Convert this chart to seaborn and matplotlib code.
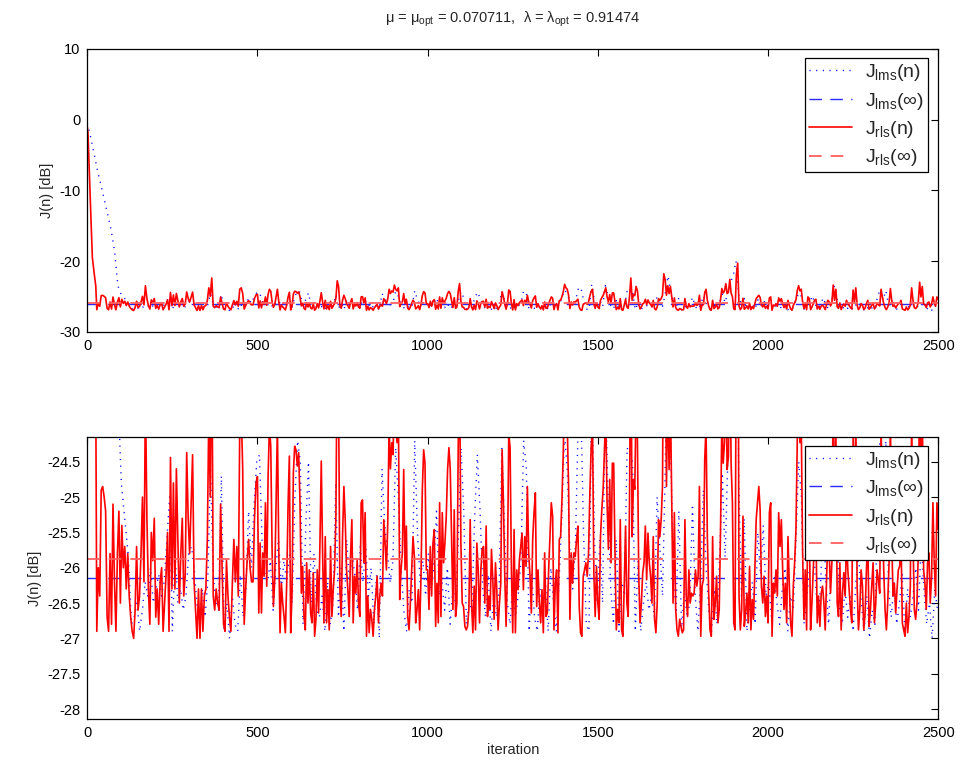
import numpy as np
import matplotlib
matplotlib.use("Agg")
import matplotlib.pyplot as plt
import seaborn as sns

sns.set_style("white")
plt.rcParams["font.family"] = ["Liberation Sans", "DejaVu Sans"]
plt.rcParams["mathtext.fontset"] = "custom"
plt.rcParams["mathtext.rm"] = "Liberation Sans"
plt.rcParams["mathtext.it"] = "Liberation Sans"
plt.rcParams["mathtext.bf"] = "Liberation Sans:bold"
plt.rcParams["axes.unicode_minus"] = False

# values
mu_opt = 0.070711
lam_opt = 0.91474
J_lms_inf = -26.145
J_rls_inf = -25.872
n_max = 2500

# RLS learning curve: start-up, then 5 segments of roughly even spacing
n_rls_start = [0, 2, 5, 8, 12, 15, 18, 21, 25]
J_rls_start = [-1.0, -1.8, -6.0, -10.5, -15.5, -19.5, -20.8, -22.0, -23.5]

rls_seg1 = [-26.9, -26.0, -26.4, -24.9, -24.85, -25.0, -25.2, -26.7, -26.9, -25.8,
            -26.8, -25.1, -26.2, -26.9, -25.8, -25.2, -26.5, -25.4, -26.0, -25.7,
            -26.3, -25.8, -26.4, -26.7, -26.9, -27.0, -26.6, -25.7, -26.6, -26.4,
            -25.8, -25.0, -26.2, -23.5, -25.3, -26.3, -26.8, -25.5, -25.9, -25.3,
            -26.7, -26.3, -26.8, -26.2, -26.0, -26.9, -26.5, -26.1, -25.5, -26.9,
            -24.44, -26.3, -24.8, -26.3, -24.6, -25.6, -26.5, -25.8, -25.3, -26.4,
            -26.1, -24.37, -25.3, -25.8, -25.1, -24.4, -26.2, -26.6, -27.0, -26.3,
            -27.0, -26.3, -26.9, -26.4, -26.3, -25.6, -23.8, -25.0, -22.4, -26.4,
            -26.6, -26.3, -26.5, -26.6, -25.1, -26.0, -26.8, -26.9, -25.9, -26.4,
            -26.7, -26.9, -26.2, -25.6, -26.2, -25.7, -26.4, -24.0, -23.8, -24.6,
            -26.8, -26.3, -25.9, -25.6, -26.0, -26.2, -26.2, -25.3, -24.8]

rls_seg2 = [-24.71, -26.64, -25.65, -26.64, -25.79, -26.12, -25.08, -26.26, -24.71, -24.0,
            -24.28, -25.74, -26.55, -26.17, -25.08, -24.0, -25.70, -26.92, -26.22, -26.50,
            -26.69, -26.92, -26.22, -25.13, -24.42, -26.92, -26.36, -24.66, -24.28, -24.33,
            -24.56, -24.37, -25.08, -26.36, -25.98, -26.69, -26.88, -25.93, -26.50, -26.03,
            -26.64, -26.78, -26.07, -26.97, -26.73, -26.03, -26.64, -25.65, -24.49, -25.79,
            -26.78, -25.56, -26.78, -26.31, -26.88, -25.70, -26.69, -26.31, -26.03, -25.27,
            -22.8, -23.6, -26.31, -26.69, -25.56, -24.85, -25.32, -26.03, -26.31, -26.69,
            -25.84, -25.32, -26.78, -26.12, -26.36, -25.89, -26.50, -26.69, -25.08, -25.04,
            -25.93, -25.22, -26.97, -26.40, -26.92, -26.59, -26.73, -26.97, -26.59, -26.40,
            -26.12, -26.78, -26.40, -26.22, -26.40, -25.32, -25.65, -26.03, -25.37, -24.0,
            -24.6, -24.23, -24.4, -23.4, -24.0, -24.23, -23.8, -26.45, -26.03, -25.79,
            -24.61, -26.03, -25.41, -26.69, -26.88, -26.50, -26.03, -25.56, -25.84, -26.78,
            -26.59, -26.31, -26.88, -26.12, -24.89, -24.33, -24.52, -26.03]

rls_seg3 = [-26.03, -26.59, -25.70, -26.40, -25.65, -25.46, -26.83, -26.22, -26.78, -25.08,
            -26.69, -25.22, -25.93, -25.65, -25.27, -24.61, -24.3, -24.61, -25.56, -26.59,
            -25.18, -26.69, -26.50, -24.28, -23.2, -25.65, -26.50, -26.55, -26.83, -26.88,
            -26.83, -26.59, -25.32, -26.50, -26.92, -26.26, -26.88, -25.65, -26.03, -26.78,
            -26.03, -25.74, -25.70, -26.50, -25.41, -26.69, -26.40, -26.59, -25.74, -26.17,
            -26.73, -25.93, -26.31, -26.88, -26.50, -26.22, -24.33, -25.08, -26.12, -26.83,
            -26.03, -24.1, -24.3, -26.03, -26.92, -25.46, -26.92, -26.03, -26.31, -25.89,
            -25.70, -25.51, -26.31, -25.56, -25.98, -24.85, -25.79, -26.12, -26.64, -25.60,
            -25.22, -24.94, -26.55, -26.03, -26.50, -26.78, -26.31, -26.92, -25.79, -26.69,
            -26.64, -26.03, -25.56, -25.08, -25.27, -26.88, -26.22, -26.03, -26.92, -25.60,
            -25.56, -25.04, -24.37, -23.3, -23.8, -24.0, -24.85, -26.73, -25.79, -26.22,
            -25.79, -25.84, -25.60, -25.41, -26.55, -26.92, -26.97, -26.12, -26.03, -25.93,
            -26.12, -25.79, -24.94, -24.28, -24.0, -26.07, -26.69, -25.98]

rls_seg4 = [-26.50, -26.73, -25.56, -25.18, -24.89, -24.33, -23.8, -25.08, -25.74, -24.75,
            -25.93, -24.52, -24.52, -25.79, -26.88, -26.59, -26.78, -25.32, -26.88, -26.97,
            -26.26, -25.41, -26.50, -26.69, -25.08, -22.4, -25.56, -24.75, -24.89, -23.6,
            -24.2, -26.12, -26.78, -26.50, -26.07, -25.93, -25.41, -26.17, -25.51, -25.93,
            -26.12, -26.50, -25.56, -26.73, -26.92, -26.50, -25.32, -25.56, -25.32, -24.85,
            -21.8, -22.6, -24.85, -23.5, -24.61, -23.6, -25.08, -26.50, -25.22, -26.59,
            -26.88, -26.97, -26.73, -26.83, -26.92, -26.88, -25.32, -26.40, -26.69, -26.03,
            -26.50, -26.36, -26.40, -26.36, -26.03, -26.26, -26.12, -24.85, -26.97, -26.26,
            -26.17, -24.47, -24.0, -25.56, -26.36, -26.88, -26.97, -25.56, -26.73, -26.50,
            -26.12, -26.78, -26.59, -25.46, -23.9, -24.52, -24.23, -23.2, -24.61, -24.42,
            -22.6, -24.52, -25.08, -26.78, -26.88, -22.0, -20.3, -26.40, -26.88, -26.59,
            -25.27, -26.83, -26.64, -26.36, -26.78, -25.98, -26.88, -26.45, -26.73, -26.03,
            -25.32, -25.08, -24.85, -25.18, -26.26, -26.50, -26.12, -26.69, -26.40]

rls_seg5 = [-26.78, -25.22, -25.08, -26.97, -26.22, -26.36, -26.03, -26.40, -25.22, -25.70,
            -25.32, -26.03, -26.59, -26.22, -26.78, -25.56, -26.26, -26.78, -26.97, -26.26,
            -25.93, -25.46, -24.18, -23.5, -24.23, -24.0, -25.79, -26.73, -26.03, -26.88,
            -25.08, -25.32, -26.88, -26.50, -26.03, -25.56, -25.41, -26.78, -26.40, -26.83,
            -26.36, -26.26, -26.50, -26.88, -26.17, -25.56, -25.79, -26.36, -25.93, -23.4,
            -25.56, -24.0, -26.50, -26.69, -25.93, -26.88, -26.36, -26.07, -26.40, -25.56,
            -26.03, -26.31, -26.59, -26.78, -24.1, -25.79, -23.8, -26.26, -26.88, -26.59,
            -26.03, -26.26, -26.88, -26.64, -26.03, -25.56, -26.83, -26.59, -26.26, -25.93,
            -26.78, -26.50, -26.03, -26.17, -26.36, -24.0, -25.08, -26.03, -26.59, -26.88,
            -26.50, -25.93, -23.9, -25.56, -26.40, -26.22, -26.64, -26.31, -26.03, -25.98,
            -25.56, -26.78, -26.88, -26.97, -26.50, -26.92, -26.69, -26.26, -23.8, -25.56,
            -26.59, -26.73, -26.50, -25.79, -23.0, -25.08, -23.6, -26.03, -26.22, -26.59,
            -25.93, -25.79, -26.50, -26.12, -25.08, -25.93, -26.40, -25.08, -25.46]

rls_bounds = [28, 500, 1000, 1500, 2000, 2500]

# LMS learning curve: start-up every 10 iterations, then every 8 from 130
n_lms_start = [0, 10, 20, 30, 40, 50, 60, 70, 80, 90, 100, 110, 120]
J_lms_start = [-0.5, -2.5, -4.8, -7.2, -9.2, -11.3, -13.4, -15.6, -18.5, -23.5, -24.8, -25.3, -25.8]

J_lms_steady = [
    -26.8, -26.7, -26.5, -26.9, -26.6, -26.2, -26.4, -26.0, -26.5, -26.3,
    -26.1, -26.4, -26.2, -25.6, -25.0, -26.9, -25.8, -26.5, -26.3, -26.6,
    -26.4, -25.8, -25.7, -26.0, -26.5, -26.8, -26.3, -26.7, -26.2, -24.6,
    -26.1, -26.5, -26.6, -24.7, -26.9, -26.5, -27.0, -26.4, -26.8, -26.9,
    -26.1, -26.7, -26.3, -25.2, -26.0, -25.1, -24.5,
    -24.4, -25.7, -26.1, -26.2, -25.9, -26.6, -26.0, -25.6, -26.3, -25.9,
    -26.2, -25.8, -26.5, -25.0, -24.2, -24.5, -26.8, -25.4, -24.5, -26.5,
    -25.8, -26.6, -26.7, -26.4, -26.9, -26.2, -26.8, -26.5, -24.8, -26.7,
    -26.0, -26.9, -25.6, -26.2, -25.8, -26.1, -26.6, -25.7, -26.2, -25.7,
    -26.4, -26.0, -26.8, -26.1, -27.0, -24.6, -25.4, -25.8, -26.2, -25.9,
    -24.3, -25.0, -26.0, -26.6, -26.9, -26.3, -26.5, -24.2, -25.5, -26.2,
    -25.9, -26.4,
    -25.8, -26.3, -26.0, -25.2, -26.4, -26.2, -26.6, -26.0, -26.8, -26.3,
    -26.5, -25.6, -24.3, -25.2, -26.8, -26.5, -26.6, -25.3, -24.4, -25.2,
    -26.3, -26.7, -26.1, -26.9, -26.4, -26.7, -26.3, -24.3, -25.5, -26.5,
    -26.8, -26.2, -26.7, -26.4, -25.9, -24.2, -24.6, -26.9, -26.1, -26.7,
    -26.9, -26.3, -26.6, -26.2, -26.9, -26.0, -26.5, -26.9, -26.2, -25.3,
    -24.1, -24.6, -25.8, -26.3, -25.7, -24.0, -23.7, -25.5, -26.8, -26.9,
    -23.3, -25.6, -26.5,
    -25.6, -26.5, -23.5, -25.0, -26.3, -26.8, -25.6, -26.9, -26.2, -26.4,
    -24.3, -24.4, -24.5, -26.9, -25.9, -26.9, -26.5, -26.2, -26.6, -26.4,
    -26.7, -25.0, -25.7, -26.4, -24.6, -22.1, -24.3, -26.2, -26.6, -25.2,
    -26.9, -26.3, -26.7, -26.5, -25.1, -26.4, -26.9, -26.2, -24.9, -26.0,
    -26.6, -26.9, -26.3, -26.8, -25.8, -24.7, -25.9, -24.4, -23.0, -22.0,
    -20.0, -24.8, -26.4, -25.3, -26.9, -26.5, -26.2, -26.8, -25.5, -26.1,
    -25.4, -26.4,
    -26.2, -26.7, -26.1, -26.5, -26.8, -26.3, -26.0, -26.9, -26.4, -26.6,
    -25.6, -24.5, -25.0, -26.8, -26.4, -26.0, -24.9, -26.1, -26.7, -26.3,
    -25.2, -26.2, -26.8, -25.9, -23.5, -25.3, -26.6, -26.8, -26.3, -26.7,
    -26.4, -26.9, -26.2, -25.8, -26.5, -26.9, -26.4, -27.0, -26.6, -26.8,
    -25.0, -24.0, -25.5, -24.2, -26.3, -26.7, -26.2, -26.8, -26.5, -26.1,
    -26.9, -26.3, -26.7, -26.4, -26.0, -26.6, -25.6, -26.3, -26.8, -26.5,
    -27.0, -26.3, -26.6]

# iteration axis for each series
segs = [rls_seg1, rls_seg2, rls_seg3, rls_seg4, rls_seg5]
n_rls = [np.array(n_rls_start, dtype=float)]
for i, s in enumerate(segs):
    last = i == len(segs) - 1
    n_rls.append(np.linspace(rls_bounds[i], rls_bounds[i + 1], len(s), endpoint=last))
n_rls = np.concatenate(n_rls)
J_rls = np.concatenate([J_rls_start] + segs)

n_lms = np.concatenate([n_lms_start, np.linspace(130, 2498, len(J_lms_steady))])
J_lms = np.concatenate([J_lms_start, J_lms_steady])

labels = [r"$J_{\rm lms}(n)$", r"$J_{\rm lms}(\infty)$", r"$J_{\rm rls}(n)$", r"$J_{\rm rls}(\infty)$"]

fig = plt.figure(figsize=(9.62, 7.71), dpi=100)
ax1 = fig.add_axes([0.0907, 0.5698, 0.8846, 0.3667])
ax2 = fig.add_axes([0.0907, 0.0671, 0.8846, 0.3665])

for ax in (ax1, ax2):
    sns.lineplot(x=n_lms, y=J_lms, ax=ax, color="blue", lw=1.0, sort=False,
                 estimator=None, linestyle=(0, (0.8, 4.0)), label=labels[0])
    ax.axhline(J_lms_inf, color="#2a2aff", lw=1.0, ls=(0, (9, 6)), label=labels[1])
    sns.lineplot(x=n_rls, y=J_rls, ax=ax, color="red", lw=1.2, sort=False,
                 estimator=None, label=labels[2])
    ax.axhline(J_rls_inf, color="#ff6060", lw=1.3, ls=(0, (7, 5)), label=labels[3])

    ax.set_xlim(0, n_max)
    ax.set_xticks(np.arange(0, n_max + 1, 500))
    ax.tick_params(direction="in", length=5, width=0.8, top=True, right=True,
                   labelsize=10.5, colors="black", pad=5)
    for sp in ax.spines.values():
        sp.set_color("black")
        sp.set_linewidth(0.9)
    ax.set_ylabel("J(n) [dB]", fontsize=10.5)
    ax.set_xlabel("")
    leg = ax.legend(loc="upper right", bbox_to_anchor=(0.9882, 0.967), borderaxespad=0,
                    fontsize=14, frameon=True, fancybox=False, framealpha=1,
                    edgecolor="black", handlelength=2.2, handletextpad=0.7,
                    labelspacing=0.38, borderpad=0.2)
    leg.get_frame().set_linewidth(0.9)

ax1.set_ylim(-30, 10)
ax1.set_yticks([-30, -20, -10, 0, 10])
ax1.set_title(r"$\mu$ = $\mu_{\rm opt}$ = %.6f,  $\lambda$ = $\lambda_{\rm opt}$ = %.5f" % (mu_opt, lam_opt),
              fontsize=10.5, pad=19)

ax2.set_ylim(J_lms_inf - 2, J_lms_inf + 2)
ax2.set_yticks(np.arange(-28, -24.4, 0.5))
ax2.set_yticklabels(["%g" % v for v in np.arange(-28, -24.4, 0.5)])
ax2.set_xlabel("iteration", fontsize=10.5, labelpad=2)

fig.savefig("out.png", dpi=100)
